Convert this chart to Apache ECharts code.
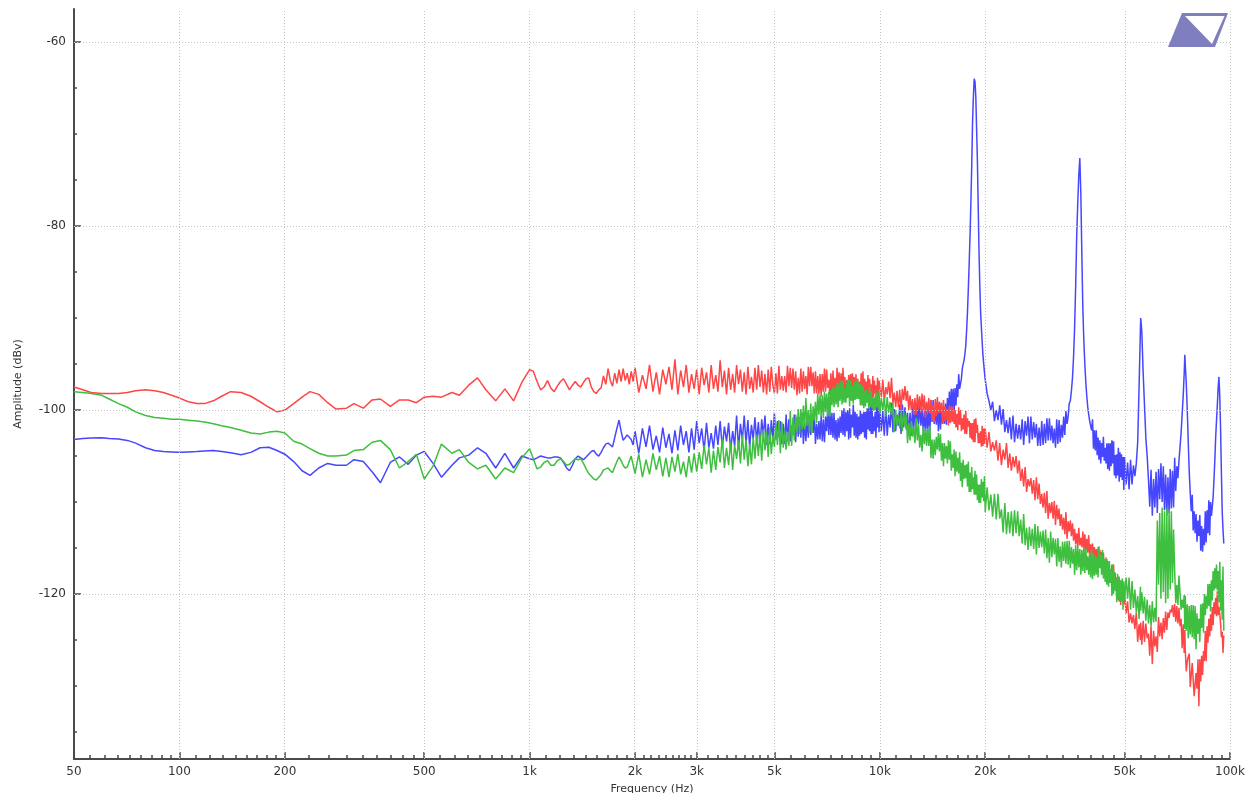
<!DOCTYPE html>
<html><head><meta charset="utf-8">
<script src="https://cdn.jsdelivr.net/npm/echarts@6/dist/echarts.min.js"></script>
<style>html,body{margin:0;padding:0;background:#fff;overflow:hidden}#chart{width:1251px;height:793px}</style>
</head><body><div id="chart"></div>
<script>
// ---- axis ticks ----
const xTickValues = [50,100,200,500,1000,2000,3000,5000,10000,20000,50000,100000];
const xTickLabels = ['50','100','200','500','1k','2k','3k','5k','10k','20k','50k','100k'];
const yTickValues = [-120,-100,-80,-60];
const yMinorTickValues = [-135,-130,-125,-115,-110,-105,-95,-90,-85,-75,-70,-65];

// ---- data: frequency (Hz) and amplitude (dBV), by segment ----
const freqA = [50,53,56,60,63,67,71,75,80,85,90,95,100,106,112,118,125,132,140,150,160,170,180,190,200,212,224,236,250,265,280,300,315,335,355,375,400,425,450,475,500,530,560,600,630,670,710,750,800,850,900,950];
const redA = [-97.5,-97.8,-98.1,-98.2,-98.2,-98.2,-98.1,-97.9,-97.8,-97.9,
 -98.1,-98.4,-98.7,-99.1,-99.3,-99.3,-99.0,-98.5,-98.0,-98.1,
 -98.5,-99.1,-99.7,-100.2,-100.0,-99.3,-98.6,-98.0,-98.3,-99.2,
 -99.9,-99.8,-99.3,-99.8,-98.9,-98.8,-99.6,-98.9,-98.9,-99.2,
 -98.6,-98.5,-98.6,-98.1,-98.4,-97.3,-96.5,-97.8,-99.0,-97.7,
 -99.0,-97.0];
const greenA = [-98.0,-98.1,-98.2,-98.4,-98.8,-99.3,-99.7,-100.2,-100.6,-100.8,
 -100.9,-101.0,-101.0,-101.1,-101.2,-101.3,-101.5,-101.7,-101.9,-102.2,
 -102.5,-102.6,-102.4,-102.3,-102.5,-103.4,-103.7,-104.2,-104.7,-105.0,
 -105.0,-104.9,-104.4,-104.3,-103.5,-103.3,-104.3,-106.3,-105.6,-104.8,
 -107.5,-106.1,-103.7,-104.7,-104.3,-105.7,-106.4,-106.0,-107.5,-106.3,
 -106.8,-105.2];
const blueA = [-103.2,-103.1,-103.05,-103.0,-103.1,-103.15,-103.3,-103.6,-104.1,-104.4,
 -104.5,-104.55,-104.6,-104.55,-104.5,-104.45,-104.4,-104.5,-104.65,-104.85,
 -104.6,-104.1,-104.05,-104.4,-104.8,-105.6,-106.6,-107.1,-106.3,-105.8,
 -106.0,-106.0,-105.4,-105.6,-106.7,-107.9,-105.7,-105.1,-105.9,-104.9,
 -104.5,-105.8,-107.3,-106.0,-105.2,-104.9,-104.1,-104.7,-106.3,-104.7,
 -106.3,-105.0];

const freqB = [1000,1025,1050,1075,1100,1125,1150,1175,1200,1225,1250,1275,1300,1325,1350,1375,1400,1425,1450,1475,1500,1525,1550,1575,1600,1625,1650,1675,1700,1725,1750,1775,1800,1825,1850,1875,1900,1925,1950,1975];
const redB = [-95.6,-95.8,-96.9,-97.8,-97.5,-96.8,-97.6,-98.0,-97.4,-96.9,
 -96.6,-97.2,-97.8,-97.3,-96.9,-97.3,-97.5,-97.0,-96.6,-96.5,
 -97.5,-98.0,-98.2,-97.8,-97.6,-96.3,-97.2,-95.5,-96.8,-97.4,
 -96.0,-97.1,-95.6,-96.9,-95.5,-96.8,-96.0,-97.2,-95.8,-96.9];
const greenB = [-104.2,-105.3,-106.4,-106.2,-105.7,-105.5,-106.0,-106.0,-105.5,-105.3,
 -105.6,-106.0,-105.9,-105.6,-105.3,-105.4,-105.3,-105.8,-106.4,-106.9,
 -107.2,-107.5,-107.6,-107.3,-107.0,-106.5,-106.4,-106.3,-106.6,-106.8,
 -106.2,-105.6,-105.1,-105.5,-106.0,-106.3,-106.2,-105.6,-105.0,-105.2];
const blueB = [-105.3,-105.4,-105.2,-105.0,-105.1,-105.2,-105.2,-105.1,-105.1,-105.2,
 -105.7,-106.3,-106.6,-106.0,-105.3,-105.0,-105.2,-105.4,-105.1,-104.8,
 -104.5,-104.4,-104.8,-105.0,-104.6,-104.1,-103.7,-103.6,-103.8,-104.0,
 -103.0,-102.0,-101.1,-102.3,-103.3,-103.0,-102.7,-102.5,-103.2,-103.8];

const freqC = [2000,2050,2100,2150,2200,2250,2300,2350,2400,2450,
 2500,2550,2600,2650,2700,2750,2800,2850,2900,2950,
 3000,3050,3100,3150,3200,3250,3300,3350,3400,3450,
 3500,3550,3600,3650,3700,3750,3800,3850,3900,3950,
 4000,4050,4100,4150,4200,4250,4300,4350,4400,4450,
 4500,4550,4600,4650,4700,4750,4800,4850,4900,4950];
const redC = [-95.4,-98.1,-96.2,-97.7,-95.1,-98.0,-95.9,-98.3,-95.6,-97.2,
 -95.3,-97.8,-94.5,-98.3,-95.7,-97.5,-95.1,-98.1,-96.1,-97.7,
 -95.6,-98.3,-95.4,-97.3,-95.9,-98.1,-95.1,-97.7,-96.2,-98.0,
 -94.6,-97.5,-95.7,-98.3,-95.4,-97.8,-96.1,-98.1,-95.1,-97.2,
 -95.6,-98.0,-95.9,-98.3,-95.3,-97.7,-96.4,-98.1,-95.4,-97.8,
 -95.1,-97.5,-95.7,-98.1,-96.1,-98.3,-95.6,-98.0,-95.3,-97.3];
const greenC = [-106.9,-104.8,-107.3,-105.4,-107.0,-104.7,-106.5,-105.0,-107.2,-105.2,
 -107.3,-105.1,-106.7,-104.8,-107.0,-105.6,-107.3,-105.0,-106.8,-104.7,
 -106.7,-104.6,-106.4,-103.8,-105.9,-104.1,-106.8,-104.4,-106.5,-104.0,
 -105.7,-103.1,-106.3,-104.1,-106.0,-103.4,-106.5,-103.8,-105.3,-103.3,
 -105.8,-102.7,-105.4,-103.2,-106.1,-103.7,-105.9,-103.0,-105.3,-102.7,
 -105.0,-102.6,-105.5,-102.1,-104.4,-102.3,-105.1,-101.9,-104.8,-102.8];
const blueC = [-102.3,-104.7,-102.0,-104.0,-101.7,-104.3,-102.8,-104.6,-101.9,-104.1,
 -102.6,-104.7,-102.2,-104.4,-101.7,-103.8,-102.3,-104.6,-102.0,-104.3,
 -101.2,-103.6,-102.0,-104.4,-101.4,-104.1,-102.5,-104.2,-101.7,-103.8,
 -101.2,-104.1,-101.8,-103.4,-101.4,-104.4,-102.3,-103.9,-100.6,-104.2,
 -101.5,-103.3,-100.6,-103.7,-101.1,-104.0,-101.6,-103.2,-100.8,-103.5,
 -101.3,-104.0,-101.0,-102.8,-100.6,-103.8,-101.5,-103.7,-101.1,-103.3];

const freqD = [5000,5150,5200,5350,5400,5550,5600,5750,5800,5950,
 6000,6150,6200,6350,6400,6550,6600,6750,6800,6950,
 7000,7150,7200,7350,7400,7550,7600,7750,7800,7950,
 8000,8150,8200,8350,8400,8550,8600,8750,8800,8950,
 9000,9150,9200,9350,9400,9550,9600,9750,9800,9950];
const redD = [-98.2,-95.2,-97.8,-96.3,-98.1,-95.4,-97.6,-95.8,-98.4,-95.5,
 -98.0,-96.3,-98.3,-95.3,-97.4,-95.8,-98.2,-96.1,-98.5,-95.5,
 -98.0,-96.7,-98.4,-95.7,-98.1,-95.4,-97.8,-96.0,-98.4,-96.4,
 -98.8,-96.2,-98.5,-96.0,-97.9,-96.1,-98.6,-96.9,-98.2,-95.8,
 -98.7,-96.9,-99.0,-96.6,-98.0,-96.3,-98.6,-97.3,-99.0,-96.8];
const greenD = [-104.0,-101.1,-104.7,-102.2,-104.3,-100.1,-103.9,-100.5,-102.4,-99.9,
 -102.1,-98.7,-101.7,-99.3,-102.5,-99.1,-101.4,-98.4,-100.7,-98.0,
 -100.2,-98.0,-100.7,-97.5,-99.7,-97.1,-99.7,-96.8,-99.4,-97.6,
 -99.2,-96.7,-99.6,-97.4,-99.3,-96.8,-98.8,-97.1,-99.5,-97.4,
 -99.8,-97.8,-99.2,-97.5,-99.6,-98.7,-100.1,-98.1,-99.7,-97.9];
const blueD = [-100.3,-102.9,-101.2,-103.7,-100.5,-103.4,-101.7,-103.5,-100.8,-103.0,
 -100.3,-103.4,-101.0,-102.7,-100.5,-103.7,-101.5,-103.2,-100.6,-103.5,
 -100.7,-102.7,-99.8,-103.0,-100.3,-103.4,-100.9,-102.5,-100.0,-102.9,
 -100.2,-103.2,-99.8,-101.9,-99.4,-103.0,-100.4,-102.8,-100.0,-102.4,
 -100.2,-103.2,-99.8,-102.3,-99.4,-102.6,-100.7,-103.0,-99.6,-102.4];

const freqD2 = [5050,5100,5250,5300,5450,5500,5650,5700,5850,5900,
 6050,6100,6250,6300,6450,6500,6650,6700,6850,6900,
 7050,7100,7250,7300,7450,7500,7650,7700,7850,7900,
 8050,8100,8250,8300,8450,8500,8650,8700,8850,8900,
 9050,9100,9250,9300,9450,9500,9650,9700,9850,9900];
const redD2 = [-96.0,-98.2,-96.3,-97.9,-95.2,-97.4,-95.5,-97.8,-96.5,-98.2,
 -95.8,-97.7,-95.3,-97.4,-95.9,-98.2,-96.3,-98.3,-96.1,-98.0,
 -95.6,-97.6,-96.0,-98.6,-96.5,-98.3,-95.9,-97.8,-95.4,-98.0,
 -96.7,-98.7,-96.1,-97.8,-96.4,-98.8,-96.6,-98.4,-96.0,-97.9,
 -96.6,-98.3,-96.2,-98.7,-97.2,-98.9,-96.8,-98.2,-96.5,-98.4];
const greenD2 = [-101.5,-103.8,-101.3,-104.1,-102.4,-103.9,-100.8,-103.3,-99.9,-102.6,
 -99.5,-102.1,-100.0,-102.5,-99.6,-101.1,-98.2,-100.5,-98.4,-100.9,
 -98.2,-100.7,-97.8,-99.5,-97.5,-99.4,-97.1,-99.0,-96.8,-99.2,
 -97.0,-98.6,-96.8,-99.0,-96.9,-98.9,-96.8,-98.8,-97.2,-99.5,
 -97.9,-99.6,-98.2,-99.8,-98.0,-99.8,-98.6,-100.0,-98.3,-99.9];
const blueD2 = [-103.2,-101.2,-103.7,-101.5,-103.4,-101.0,-102.7,-100.5,-102.9,-100.8,
 -103.7,-101.3,-103.0,-100.6,-102.5,-100.5,-103.2,-101.2,-103.4,-101.0,
 -102.3,-99.8,-102.7,-100.3,-103.2,-101.1,-103.0,-100.7,-102.7,-99.8,
 -102.3,-100.0,-103.0,-100.5,-102.8,-100.2,-103.2,-100.7,-102.6,-100.4,
 -103.0,-100.2,-102.1,-99.8,-102.6,-99.4,-102.3,-100.2,-101.9,-99.6];

const freqE = [10000,10300,10400,10700,10800,11100,11200,11500,11600,11900,
 12000,12300,12400,12700,12800,13100,13200,13500,13600,13900,
 14000,14300,14400,14700,14800,15100,15200,15500,15600,15900,
 16000,16300,16400,16700,16800,17100,17200,17500,17600,17900,
 18000,18300,18400,18700,18800,19100,19200,19500,19600,19900];
const redE = [-96.8,-99.1,-97.5,-98.7,-96.5,-99.7,-97.9,-100.0,-97.7,-99.0,
 -97.9,-100.0,-98.8,-100.5,-98.3,-100.3,-98.2,-100.8,-99.1,-100.4,
 -98.9,-101.3,-98.8,-100.4,-99.2,-101.5,-98.9,-101.1,-99.9,-101.4,
 -99.6,-101.5,-100.0,-102.2,-99.7,-102.3,-100.9,-102.6,-100.1,-101.8,
 -101.2,-103.2,-101.4,-103.5,-100.9,-103.6,-102.5,-104.0,-101.7,-103.7];
const greenE = [-100.4,-98.6,-100.7,-99.1,-100.5,-100.0,-101.7,-100.2,-102.3,-100.5,
 -103.6,-101.2,-102.9,-100.9,-103.3,-102.7,-104.5,-102.0,-103.9,-101.7,
 -105.2,-103.2,-104.9,-102.5,-104.5,-103.6,-106.1,-103.9,-105.8,-103.4,
 -106.6,-104.3,-107.2,-105.2,-106.9,-105.7,-108.4,-106.0,-107.4,-105.6,
 -108.9,-106.2,-108.6,-106.6,-109.2,-108.1,-110.1,-107.5,-109.5,-107.2];
const blueE = [-99.9,-102.8,-99.6,-101.9,-99.2,-102.3,-100.5,-102.6,-99.4,-102.1,
 -100.3,-102.8,-99.7,-102.4,-99.2,-101.7,-99.9,-102.6,-99.6,-102.3,
 -98.9,-101.5,-99.8,-102.3,-99.1,-101.5,-99.8,-101.6,-98.7,-100.6,
 -97.7,-100.3,-97.6,-98.6,-96.1,-96.6,-95.5,-93.9,-93.0,-86.8,
 -84.0,-73.5,-68.7,-64.3,-66.0,-78.0,-82.8,-91.0,-92.6,-95.9];

const freqE2 = [10100,10200,10500,10600,10900,11000,11300,11400,11700,11800,
 12100,12200,12500,12600,12900,13000,13300,13400,13700,13800,
 14100,14200,14500,14600,14900,15000,15300,15400,15700,15800,
 16100,16200,16500,16600,16900,17000,17300,17400,17700,17800,
 18100,18200,18500,18600,18900,19000,19300,19400,19700,19800];
const redE2 = [-98.6,-96.7,-98.3,-96.9,-99.3,-98.1,-99.7,-97.8,-98.9,-97.4,
 -100.0,-98.4,-100.5,-98.7,-99.9,-98.5,-100.1,-98.4,-100.3,-98.7,
 -101.1,-99.4,-100.7,-98.6,-100.3,-99.2,-101.2,-99.6,-101.7,-99.5,
 -101.3,-99.6,-101.9,-100.4,-101.6,-100.0,-102.1,-100.5,-102.6,-100.9,
 -103.0,-101.4,-103.5,-101.0,-102.5,-101.6,-103.6,-102.3,-103.9,-102.0];
const greenE2 = [-98.7,-100.0,-98.6,-100.3,-99.3,-102.4,-100.6,-102.0,-100.1,-101.7,
 -101.4,-103.3,-101.8,-103.6,-101.5,-104.1,-101.8,-103.7,-102.0,-103.9,
 -103.2,-105.3,-102.9,-104.3,-102.6,-105.5,-103.6,-105.3,-103.3,-105.4,
 -104.8,-106.3,-104.5,-106.7,-104.6,-107.7,-105.4,-107.5,-105.9,-108.3,
 -106.8,-108.9,-107.3,-109.2,-107.0,-109.8,-108.1,-110.1,-107.8,-109.9];
const blueE2 = [-102.3,-100.1,-102.8,-100.5,-102.4,-99.9,-101.7,-99.4,-101.9,-99.7,
 -102.8,-100.3,-102.1,-99.6,-101.5,-99.4,-102.3,-100.1,-102.4,-99.9,
 -101.3,-98.9,-101.6,-99.4,-102.1,-99.6,-101.5,-99.3,-100.8,-98.0,
 -99.9,-97.7,-99.5,-97.2,-97.7,-97.5,-95.0,-94.6,-91.3,-89.3,
 -81.0,-77.5,-66.0,-64.0,-69.5,-73.0,-86.5,-89.3,-94.0,-95.0];

const freqF = [20000,20750,21000,21750,22000,22750,23000,23750,24000,24750,
 25000,25750,26000,26750,27000,27750,28000,28750,29000,29750,
 30000,30750,31000,31750,32000,32750,33000,33750,34000,34750,
 35000,35750,36000,36750,37000,37250,37500,38250,38500,39250,
 39500,40250,40500,41250,41500,42250,42500,43250,43500,44250,
 44500,45250,45500,46250,46500,47250,47500,48250,48500,49250,
 49500];
const redF = [-102.0,-104.5,-103.5,-105.5,-103.6,-105.4,-103.6,-106.6,-105.1,-106.9,
 -105.5,-108.3,-106.2,-108.3,-107.4,-109.8,-107.3,-110.2,-109.1,-111.2,
 -108.8,-111.2,-110.0,-112.5,-110.3,-112.6,-111.3,-113.5,-111.1,-113.2,
 -112.0,-114.2,-112.9,-114.9,-112.8,-114.7,-113.9,-115.4,-113.5,-115.5,
 -113.6,-115.6,-114.5,-116.5,-115.1,-117.0,-115.2,-117.3,-115.5,-117.4,
 -116.2,-118.6,-117.3,-118.9,-116.8,-119.7,-118.2,-120.8,-118.7,-120.7,
 -119.2];
const greenF = [-111.1,-109.2,-111.6,-109.1,-111.8,-110.1,-113.5,-111.0,-113.7,-111.0,
 -113.7,-111.3,-114.7,-112.7,-114.8,-112.4,-115.7,-113.2,-114.9,-113.0,
 -116.1,-113.2,-116.0,-114.0,-117.0,-114.8,-117.1,-114.3,-116.7,-114.2,
 -117.2,-115.1,-117.9,-114.8,-117.1,-115.1,-117.9,-114.9,-117.7,-115.9,
 -117.9,-115.2,-118.4,-115.8,-117.9,-114.8,-117.2,-115.2,-118.3,-116.0,
 -119.0,-116.4,-118.8,-116.8,-120.0,-118.4,-120.9,-118.1,-120.8,-118.3,
 -121.7];
const blueF = [-96.7,-100.0,-99.1,-101.1,-99.5,-102.4,-101.1,-103.2,-100.6,-103.1,
 -101.6,-103.8,-101.2,-103.6,-100.7,-103.0,-101.5,-103.9,-101.2,-103.6,
 -100.9,-103.3,-101.7,-104.1,-101.0,-103.5,-101.6,-102.7,-100.1,-99.3,
 -99.0,-94.2,-91.0,-77.5,-74.5,-72.6,-76.5,-92.5,-95.0,-99.7,
 -100.5,-102.2,-101.0,-104.4,-102.2,-105.4,-103.3,-105.1,-102.9,-105.8,
 -103.6,-106.6,-103.6,-105.8,-103.4,-107.4,-104.8,-107.8,-104.6,-107.6,
 -105.1];

const freqF2 = [20250,20500,21250,21500,22250,22500,23250,23500,24250,24500,
 25250,25500,26250,26500,27250,27500,28250,28500,29250,29500,
 30250,30500,31250,31500,32250,32500,33250,33500,34250,34500,
 35250,35500,36250,36500,37750,38000,38750,39000,39750,40000,
 40750,41000,41750,42000,42750,43000,43750,44000,44750,45000,
 45750,46000,46750,47000,47750,48000,48750,49000,49750];
const redF2 = [-104.1,-102.4,-104.4,-103.3,-106.0,-104.3,-106.3,-104.7,-106.2,-105.0,
 -107.7,-106.4,-108.9,-107.5,-109.1,-107.6,-109.7,-108.0,-110.6,-109.0,
 -111.8,-110.1,-111.8,-109.9,-111.9,-110.7,-113.0,-111.7,-114.0,-112.1,
 -113.7,-112.3,-114.6,-113.4,-114.9,-113.2,-115.2,-114.0,-116.0,-114.6,
 -116.1,-114.9,-116.9,-114.9,-116.6,-115.4,-117.5,-116.6,-118.3,-116.9,
 -118.7,-116.8,-118.9,-117.7,-120.6,-118.9,-121.2,-119.5,-121.1];
const greenF2 = [-108.4,-110.9,-109.1,-111.9,-110.8,-113.3,-111.1,-113.4,-110.9,-113.4,
 -111.9,-114.5,-112.8,-115.2,-112.9,-115.1,-112.6,-115.0,-113.1,-115.6,
 -113.9,-116.6,-113.9,-115.7,-113.9,-116.5,-114.3,-116.4,-114.2,-116.8,
 -114.9,-116.7,-114.7,-117.4,-115.2,-117.5,-115.0,-117.4,-115.5,-118.2,
 -115.6,-118.0,-116.0,-118.2,-115.7,-117.9,-116.2,-118.7,-116.4,-119.2,
 -117.3,-120.2,-117.6,-119.6,-117.8,-120.6,-118.5,-120.8,-118.6];
const blueF2 = [-98.2,-99.0,-101.2,-100.0,-101.6,-99.9,-102.5,-100.8,-103.5,-101.5,
 -103.2,-101.0,-102.8,-100.7,-103.2,-101.3,-103.9,-101.9,-103.8,-101.5,
 -103.3,-100.9,-103.6,-102.0,-103.7,-101.1,-103.0,-100.7,-101.5,-100.7,
 -97.9,-96.5,-86.5,-81.0,-83.0,-89.0,-97.0,-98.5,-101.2,-101.1,
 -104.2,-102.2,-104.9,-103.0,-105.8,-103.6,-105.5,-104.1,-106.4,-103.6,
 -106.1,-103.3,-107.1,-104.9,-107.1,-104.1,-107.3,-104.8,-108.7];

const freqG = [50000,51500,52000,53500,54000,55500,55600,56000,57500,58000,
 59500,60000,61500,62000,63500,64000,65500,66000,67500,68000,
 69500,70000,71500,72000,73500,74000,74300,75500,76000,77500,
 78000,79500,80000,81500,82000,83500,84000,85500,86000,87500,
 88000,89500,90000,91500,92000,93500,94000,95500,96000];
const redG = [-119.8,-123.1,-122.1,-123.8,-122.0,-125.0,-123.1,-125.5,-123.2,-124.8,
 -123.5,-127.6,-124.6,-126.3,-123.1,-124.9,-121.9,-123.9,-121.7,-122.0,
 -121.1,-123.0,-121.5,-123.5,-123.3,-126.4,-123.9,-127.3,-126.8,-130.3,
 -127.5,-130.9,-128.6,-132.2,-127.1,-128.8,-126.2,-127.3,-123.5,-124.6,
 -122.2,-123.4,-120.9,-122.4,-119.7,-122.2,-123.2,-126.4,-124.5];
const greenG = [-120.7,-118.2,-121.7,-119.5,-122.0,-119.2,-121.8,-119.8,-122.9,-120.6,
 -123.5,-120.8,-123.0,-112.0,-120.5,-110.6,-121.0,-110.7,-119.5,-111.0,
 -117.5,-121.0,-118.0,-118.2,-121.5,-120.1,-123.8,-121.1,-124.8,-121.2,
 -124.7,-121.3,-126.0,-122.7,-125.2,-121.0,-124.2,-120.2,-121.6,-118.9,
 -121.9,-117.5,-119.6,-116.8,-119.6,-116.5,-121.8,-117.0,-124.0];
const blueG = [-105.1,-108.6,-105.4,-107.2,-105.8,-91.0,-90.0,-91.5,-103.0,-105.0,
 -106.5,-111.5,-106.7,-111.2,-105.8,-110.0,-107.0,-111.5,-106.4,-110.7,
 -105.2,-108.8,-105.5,-104.0,-98.5,-96.0,-94.0,-100.0,-103.5,-111.0,
 -109.2,-113.4,-111.3,-113.7,-111.4,-115.4,-112.9,-114.4,-110.9,-113.6,
 -110.0,-109.5,-107.5,-101.2,-99.5,-98.6,-102.0,-113.0,-114.5];

const freqG2 = [50500,51000,52500,53000,54500,55000,56500,57000,58500,59000,
 60500,61000,62500,63000,64500,65000,66500,67000,68500,69000,
 70500,71000,72500,73000,74500,75000,76500,77000,78500,79000,
 80500,81000,82500,83000,84500,85000,86500,87000,88500,89000,
 90500,91000,92500,93000,94500,95000];
const redG2 = [-122.1,-120.8,-123.2,-122.3,-125.2,-123.3,-122.9,-125.2,-124.3,-126.7,
 -124.0,-125.7,-122.5,-124.6,-122.6,-124.2,-122.0,-122.6,-121.2,-122.5,
 -121.3,-123.2,-122.7,-125.9,-126.0,-128.4,-126.5,-130.1,-127.5,-131.1,
 -130.3,-127.1,-129.5,-126.7,-127.3,-124.0,-125.3,-122.7,-124.0,-121.4,
 -122.2,-120.4,-122.3,-121.4,-124.7,-124.1];
const greenG2 = [-118.2,-120.5,-118.6,-121.5,-120.2,-122.7,-122.1,-120.3,-123.2,-121.2,
 -123.1,-121.5,-119.0,-111.2,-119.8,-111.0,-120.5,-110.9,-118.8,-113.0,
 -119.0,-121.2,-121.7,-120.6,-120.2,-124.0,-121.3,-124.4,-121.2,-124.9,
 -122.1,-124.3,-121.1,-123.7,-120.0,-122.3,-118.9,-121.3,-118.5,-120.7,
 -117.2,-119.4,-117.5,-120.9,-118.5,-122.8];
const blueG2 = [-108.1,-105.7,-108.1,-106.0,-103.5,-97.5,-96.0,-99.5,-107.5,-110.5,
 -107.5,-110.6,-106.4,-109.7,-106.1,-110.9,-107.3,-111.2,-106.6,-110.6,
 -106.1,-107.4,-102.5,-100.5,-95.0,-97.0,-106.8,-109.0,-113.1,-111.0,
 -114.3,-112.0,-115.3,-112.6,-114.7,-111.0,-113.4,-109.8,-111.5,-110.5,
 -105.5,-103.0,-97.6,-96.4,-106.8,-111.0];

// ---- build ----
const segFreq  = [freqA, freqB, freqC, freqD, freqD2, freqE, freqE2, freqF, freqF2, freqG, freqG2];
const segRed   = [redA, redB, redC, redD, redD2, redE, redE2, redF, redF2, redG, redG2];
const segGreen = [greenA, greenB, greenC, greenD, greenD2, greenE, greenE2, greenF, greenF2, greenG, greenG2];
const segBlue  = [blueA, blueB, blueC, blueD, blueD2, blueE, blueE2, blueF, blueF2, blueG, blueG2];

function buildSeries(vals) {
  const out = [];
  segFreq.forEach((f, s) => {
    const v = vals[s];
    if (f.length !== v.length) console.warn('length mismatch segment', s, f.length, v.length);
    const n = Math.min(f.length, v.length);
    for (let i = 0; i < n; i++) out.push([Math.log10(f[i]), v[i]]);
  });
  out.sort((a, b) => a[0] - b[0]);
  return out;
}

const lg = v => Math.log10(v);
const xMajor = xTickValues.map(lg);
const xMinor = [];
for (let i = 0; i < xTickValues.length - 1; i++) {
  const a = xTickValues[i], b = xTickValues[i + 1];
  for (let k = 1; k < 9; k++) xMinor.push(lg(a + (b - a) * k / 9));
}
function xLabel(v) {
  for (let i = 0; i < xMajor.length; i++) if (Math.abs(xMajor[i] - v) < 1e-6) return xTickLabels[i];
  return '';
}

const X_MIN = lg(50), X_MAX = lg(100000);
const Y_MIN = -137.93, Y_MAX = -56.41;
const FONT = 'DejaVu Sans';
const axisCol = '#4a4a4a';

const chart = echarts.init(document.getElementById('chart'), null, {renderer: 'canvas'});
chart.setOption({
  animation: false,
  backgroundColor: '#ffffff',
  grid: {left: 74, right: 21, top: 9, bottom: 34, containLabel: false, outerBoundsMode: 'none'},
  xAxis: [
    {
      type: 'value', min: X_MIN, max: X_MAX, position: 'bottom',
      name: 'Frequency (Hz)', nameLocation: 'middle', nameGap: 25,
      nameTextStyle: {fontFamily: FONT, fontSize: 11, color: '#333'},
      axisLine: {show: true, onZero: false, lineStyle: {color: axisCol, width: 2}},
      axisTick: {show: true, inside: true, length: 7, customValues: xMajor, lineStyle: {color: axisCol, width: 1.5}},
      axisLabel: {show: true, customValues: xMajor, formatter: xLabel, margin: 7, fontFamily: FONT, fontSize: 12, color: '#333'},
      splitLine: {show: false}
    },
    {
      type: 'value', min: X_MIN, max: X_MAX, position: 'bottom', offset: 0,
      axisLine: {show: false, onZero: false},
      axisTick: {show: true, inside: true, length: 4, customValues: xMinor, lineStyle: {color: axisCol, width: 1.5}},
      axisLabel: {show: false},
      splitLine: {show: false}
    }
  ],
  yAxis: [
    {
      type: 'value', min: Y_MIN, max: Y_MAX, position: 'left',
      name: 'Amplitude (dBv)', nameLocation: 'middle', nameGap: 50, nameRotate: 90,
      nameTextStyle: {fontFamily: FONT, fontSize: 11, color: '#333'},
      axisLine: {show: true, onZero: false, lineStyle: {color: axisCol, width: 2}},
      axisTick: {show: true, inside: true, length: 7, customValues: yTickValues, lineStyle: {color: axisCol, width: 1.5}},
      axisLabel: {show: true, customValues: yTickValues, margin: 8, fontFamily: FONT, fontSize: 12, color: '#333', formatter: v => String(v)},
      splitLine: {show: false}
    },
    {
      type: 'value', min: Y_MIN, max: Y_MAX, position: 'left', offset: 0,
      axisLine: {show: false, onZero: false},
      axisTick: {show: true, inside: true, length: 3, customValues: yMinorTickValues, lineStyle: {color: axisCol, width: 1.5}},
      axisLabel: {show: false},
      splitLine: {show: false}
    }
  ],
  series: [
    {
      name: 'grid', type: 'line', data: [], z: 1, silent: true,
      markLine: {
        silent: true, symbol: ['none', 'none'], animation: false,
        label: {show: false},
        lineStyle: {color: '#c4c4c4', type: [1, 2], width: 1},
        emphasis: {disabled: true},
        data: xTickValues.slice(1).map(v => ({xAxis: lg(v)})).concat(yTickValues.map(v => ({yAxis: v})))
      }
    },
    {
      name: 'Blue', type: 'line', data: buildSeries(segBlue), z: 3,
      showSymbol: false, symbol: 'none', clip: true,
      lineStyle: {color: '#4646ff', width: 1.5}, itemStyle: {color: '#4646ff'}
    },
    {
      name: 'Red', type: 'line', data: buildSeries(segRed), z: 4,
      showSymbol: false, symbol: 'none', clip: true,
      lineStyle: {color: '#ff4646', width: 1.5}, itemStyle: {color: '#ff4646'}
    },
    {
      name: 'Green', type: 'line', data: buildSeries(segGreen), z: 5,
      showSymbol: false, symbol: 'none', clip: true,
      lineStyle: {color: '#3fbf3f', width: 1.5}, itemStyle: {color: '#3fbf3f'}
    }
  ],
  graphic: [
    {type: 'polygon', z: 100, shape: {points: [[1182, 13], [1228, 13], [1215, 47], [1168, 47]]}, style: {fill: '#7f7fbf'}},
    {type: 'polygon', z: 101, shape: {points: [[1185, 16], [1224.5, 16], [1212, 44]]}, style: {fill: '#ffffff'}}
  ]
});
</script>
</body></html>
